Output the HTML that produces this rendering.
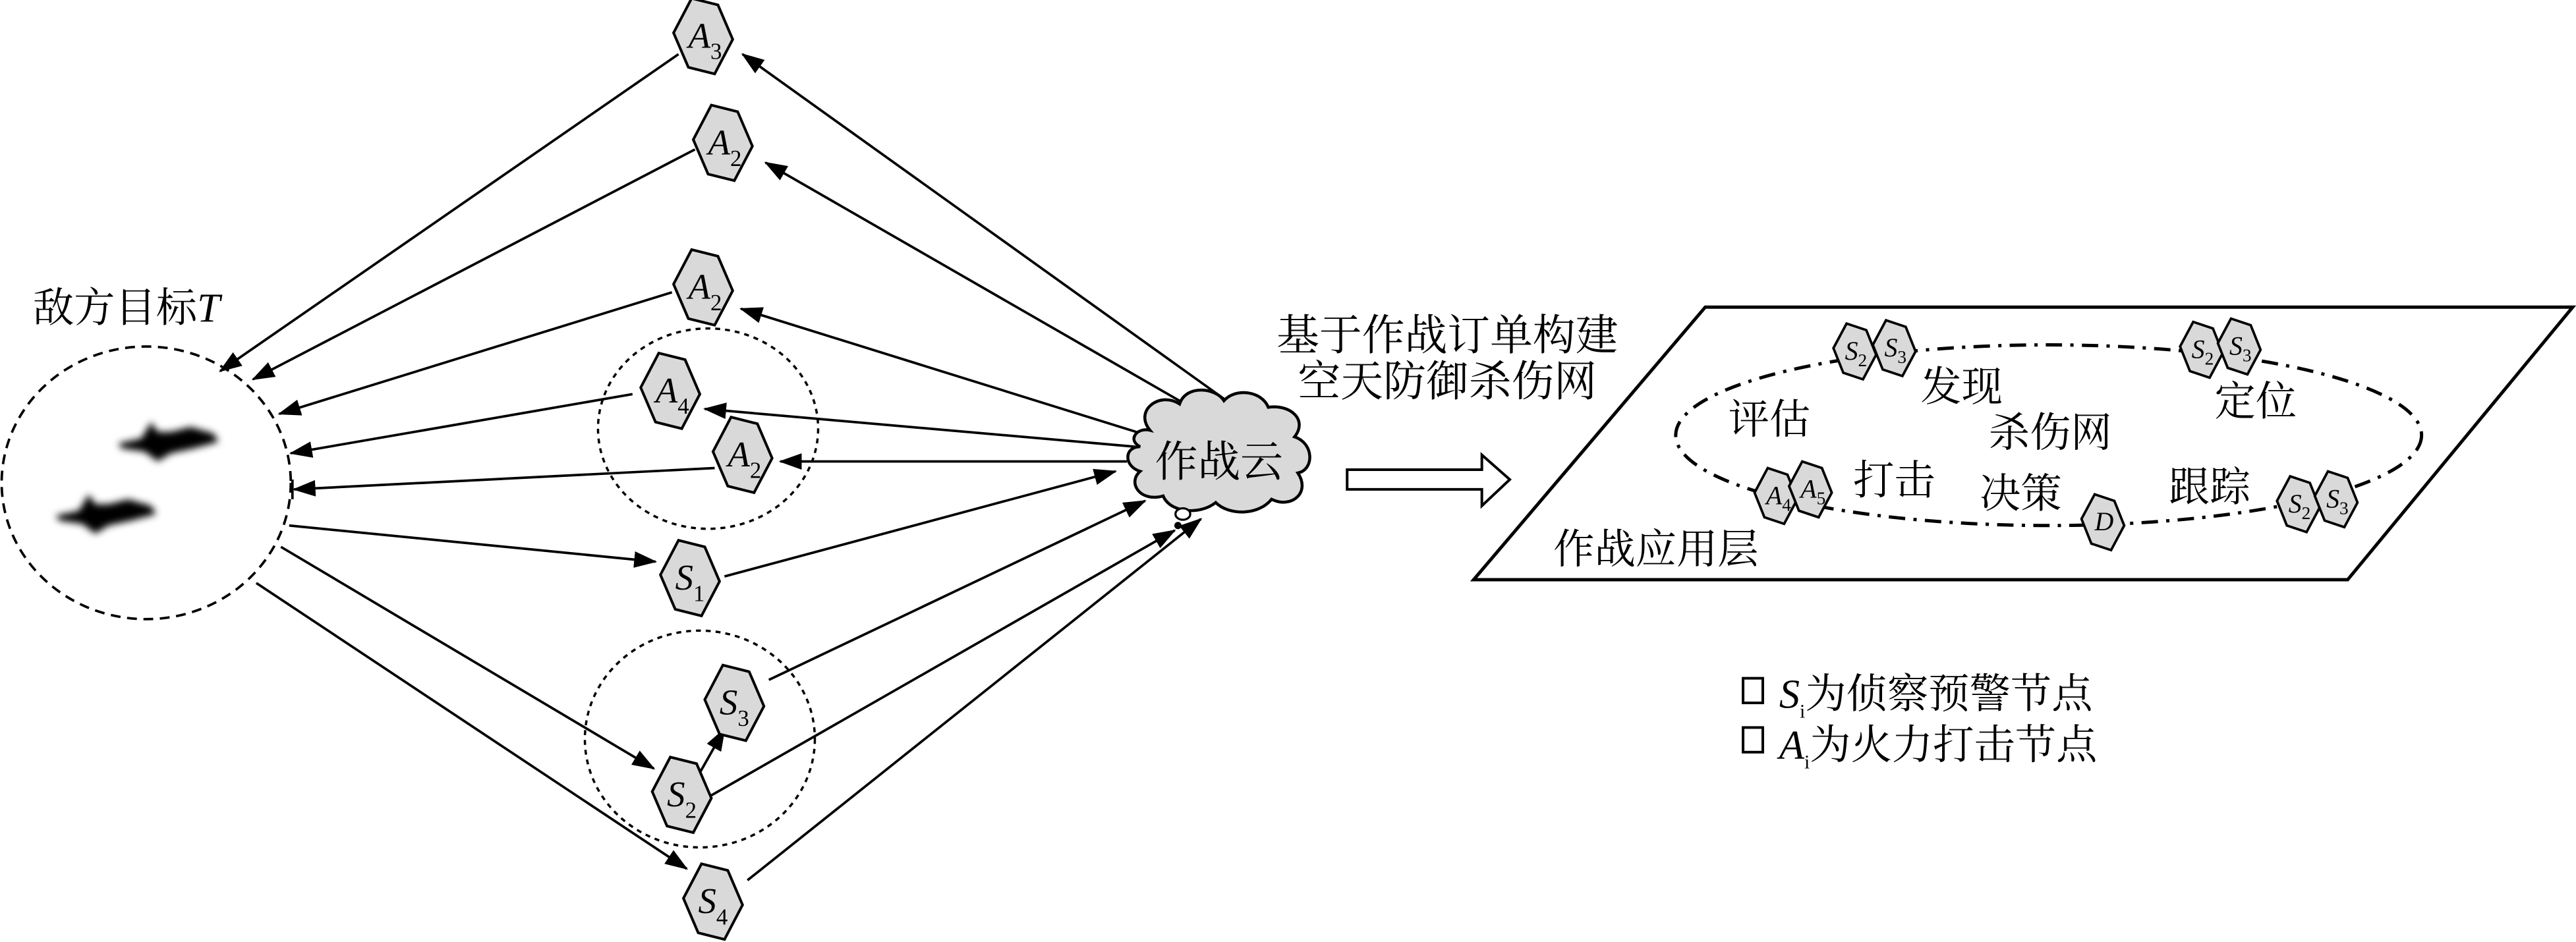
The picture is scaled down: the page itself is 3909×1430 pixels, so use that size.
<!DOCTYPE html>
<html><head><meta charset="utf-8"><style>
html,body{margin:0;padding:0;background:#fff;}
svg{display:block;}
text{font-family:"Liberation Serif","Noto Serif CJK SC","Noto Sans CJK SC",serif;fill:#000;}
.cjk{font-family:"Liberation Serif","Noto Serif CJK SC","Noto Sans CJK SC",serif;}
</style></head><body>
<svg width="3909" height="1430" viewBox="0 0 1568 573.6" preserveAspectRatio="none" xmlns="http://www.w3.org/2000/svg">
<defs>
<marker id="ar" markerUnits="userSpaceOnUse" markerWidth="14" markerHeight="10" refX="13" refY="5" orient="auto">
<path d="M0,0 L14,5 L0,10 Z" fill="#000"/></marker>
<filter id="bl"><feGaussianBlur stdDeviation="2.2"/></filter>
<symbol id="hx" overflow="visible"><polygon points="-7,-23 9,-19 18,2 7,23 -9,19 -18,-2" fill="#d9d9d9" stroke="#000" stroke-width="1.6"/></symbol>
<symbol id="hs" overflow="visible"><polygon points="-5,-17 7,-13 13,2 5,17 -7,13 -13,-2" fill="#d9d9d9" stroke="#000" stroke-width="1.5"/></symbol>
</defs>

<!-- target -->
<text x="20" y="196" font-size="25" class="cjk">敌方目标<tspan font-style="italic">T</tspan></text>
<ellipse cx="89" cy="294" rx="88" ry="83" fill="none" stroke="#000" stroke-width="1.5" stroke-dasharray="6,4"/>
<g filter="url(#bl)">
<path d="M72,270 L86,267 L92,257 L96,263 L104,263 L116,260 L130,264 L133,269 L118,273 L104,276 L96,281 L88,275 L74,273 Z" fill="#000"/>
<path d="M34,314 L48,311 L54,301 L58,307 L66,307 L78,304 L92,308 L95,313 L80,317 L66,320 L58,325 L50,319 L36,317 Z" fill="#000"/>
</g>

<!-- inner dashed circles -->
<ellipse cx="431" cy="261" rx="67" ry="61" fill="none" stroke="#000" stroke-width="1.4" stroke-dasharray="3,3"/>
<ellipse cx="426" cy="450" rx="70" ry="66" fill="none" stroke="#000" stroke-width="1.4" stroke-dasharray="3,3"/>

<!-- connectors -->
<g stroke="#000" stroke-width="1.5" fill="none" marker-end="url(#ar)">
<line x1="413" y1="33" x2="134" y2="226"/>
<line x1="755" y1="250" x2="452" y2="33"/>
<line x1="423" y1="91" x2="154" y2="231"/>
<line x1="737" y1="255" x2="466" y2="99"/>
<line x1="409" y1="178" x2="170" y2="252"/>
<line x1="698" y1="265" x2="451" y2="188"/>
<line x1="385" y1="240" x2="177" y2="276"/>
<line x1="691" y1="272" x2="429" y2="249"/>
<line x1="435" y1="285" x2="179" y2="298"/>
<line x1="686" y1="281" x2="475" y2="281"/>
<line x1="176" y1="320" x2="399" y2="342"/>
<line x1="441" y1="351" x2="679" y2="287"/>
<line x1="171" y1="333" x2="398" y2="468"/>
<line x1="424" y1="474" x2="441" y2="444"/>
<line x1="468" y1="414" x2="697" y2="305"/>
<line x1="430" y1="486" x2="715" y2="323"/>
<line x1="156" y1="355" x2="418" y2="529"/>
<line x1="455" y1="536" x2="731" y2="316"/>
</g>
<line x1="178" y1="292" x2="178" y2="304" stroke="#000" stroke-width="1.5"/>

<!-- cloud -->
<path d="M700,262 C690,250 706,238 718,246 C722,234 740,236 745,244 C752,236 768,238 772,248 C786,246 796,256 788,266 C800,270 800,286 790,288 C798,300 786,310 774,304 C766,314 748,314 740,306 C730,314 712,312 708,302 C694,306 686,294 694,287 C684,284 684,272 694,272 C686,268 692,260 700,262 Z" fill="#d9d9d9" stroke="#000" stroke-width="1.8"/>
<text x="742" y="290" font-size="26" text-anchor="middle">作战云</text>
<ellipse cx="720" cy="313" rx="4.5" ry="3.5" fill="#fff" stroke="#000" stroke-width="1.3"/>
<circle cx="717" cy="320" r="2.2" fill="#000"/>

<!-- nodes -->
<g font-family="Liberation Serif" font-style="italic">
<use href="#hx" x="428" y="22"/><text x="419" y="29" font-size="22">A<tspan font-size="14" dy="7" font-style="normal">3</tspan></text>
<use href="#hx" x="440" y="87"/><text x="431" y="94" font-size="22">A<tspan font-size="14" dy="7" font-style="normal">2</tspan></text>
<use href="#hx" x="428" y="175"/><text x="419" y="182" font-size="22">A<tspan font-size="14" dy="7" font-style="normal">2</tspan></text>
<use href="#hx" x="408" y="238"/><text x="399" y="245" font-size="22">A<tspan font-size="14" dy="7" font-style="normal">4</tspan></text>
<use href="#hx" x="452" y="277"/><text x="443" y="284" font-size="22">A<tspan font-size="14" dy="7" font-style="normal">2</tspan></text>
<use href="#hx" x="420" y="352"/><text x="411" y="359" font-size="22">S<tspan font-size="14" dy="7" font-style="normal">1</tspan></text>
<use href="#hx" x="447" y="428"/><text x="438" y="435" font-size="22">S<tspan font-size="14" dy="7" font-style="normal">3</tspan></text>
<use href="#hx" x="415" y="484"/><text x="406" y="491" font-size="22">S<tspan font-size="14" dy="7" font-style="normal">2</tspan></text>
<use href="#hx" x="434" y="549"/><text x="425" y="556" font-size="22">S<tspan font-size="14" dy="7" font-style="normal">4</tspan></text>
</g>

<!-- middle text and arrow -->
<text x="881" y="213" font-size="26" text-anchor="middle">基于作战订单构建</text>
<text x="881" y="241" font-size="26" text-anchor="middle">空天防御杀伤网</text>
<path d="M820,286 L902,286 L902,277 L919,292 L902,308 L902,298 L820,298 Z" fill="#fff" stroke="#000" stroke-width="1.6"/>

<!-- application layer -->
<polygon points="1038,187 1566,187 1429,353 897,353" fill="#fff" stroke="#000" stroke-width="2"/>
<ellipse cx="1247" cy="265" rx="227" ry="55" fill="none" stroke="#000" stroke-width="2" stroke-dasharray="10,5,2,5"/>
<g font-size="25" text-anchor="middle">
<text x="1194" y="244">发现</text>
<text x="1373" y="253">定位</text>
<text x="1077" y="264">评估</text>
<text x="1248" y="272">杀伤网</text>
<text x="1153" y="301">打击</text>
<text x="1230" y="309">决策</text>
<text x="1345" y="305">跟踪</text>
<text x="1008" y="343">作战应用层</text>
</g>
<g font-family="Liberation Serif" font-style="italic" font-size="16">
<use href="#hs" x="1129" y="214"/><text x="1123" y="219">S<tspan font-size="11" dy="4" font-style="normal">2</tspan></text>
<use href="#hs" x="1153" y="212"/><text x="1147" y="217">S<tspan font-size="11" dy="4" font-style="normal">3</tspan></text>
<use href="#hs" x="1340" y="213"/><text x="1334" y="218">S<tspan font-size="11" dy="4" font-style="normal">2</tspan></text>
<use href="#hs" x="1363" y="211"/><text x="1357" y="216">S<tspan font-size="11" dy="4" font-style="normal">3</tspan></text>
<use href="#hs" x="1081" y="302"/><text x="1075" y="307">A<tspan font-size="11" dy="4" font-style="normal">4</tspan></text>
<use href="#hs" x="1102" y="298"/><text x="1096" y="303">A<tspan font-size="11" dy="4" font-style="normal">5</tspan></text>
<use href="#hs" x="1280" y="318"/><text x="1275" y="323">D</text>
<use href="#hs" x="1399" y="307"/><text x="1393" y="312">S<tspan font-size="11" dy="4" font-style="normal">2</tspan></text>
<use href="#hs" x="1422" y="304"/><text x="1416" y="309">S<tspan font-size="11" dy="4" font-style="normal">3</tspan></text>
</g>

<!-- legend -->
<rect x="1061" y="413" width="12" height="15" fill="#fff" stroke="#000" stroke-width="1.6"/>
<text x="1083" y="431" font-size="25"><tspan font-style="italic">S</tspan><tspan font-size="12" dy="6">i</tspan><tspan dy="-6">为侦察预警节点</tspan></text>
<rect x="1061" y="443" width="12" height="15" fill="#fff" stroke="#000" stroke-width="1.6"/>
<text x="1083" y="462" font-size="25"><tspan font-style="italic">A</tspan><tspan font-size="12" dy="6">i</tspan><tspan dy="-6">为火力打击节点</tspan></text>
</svg>
</body></html>
